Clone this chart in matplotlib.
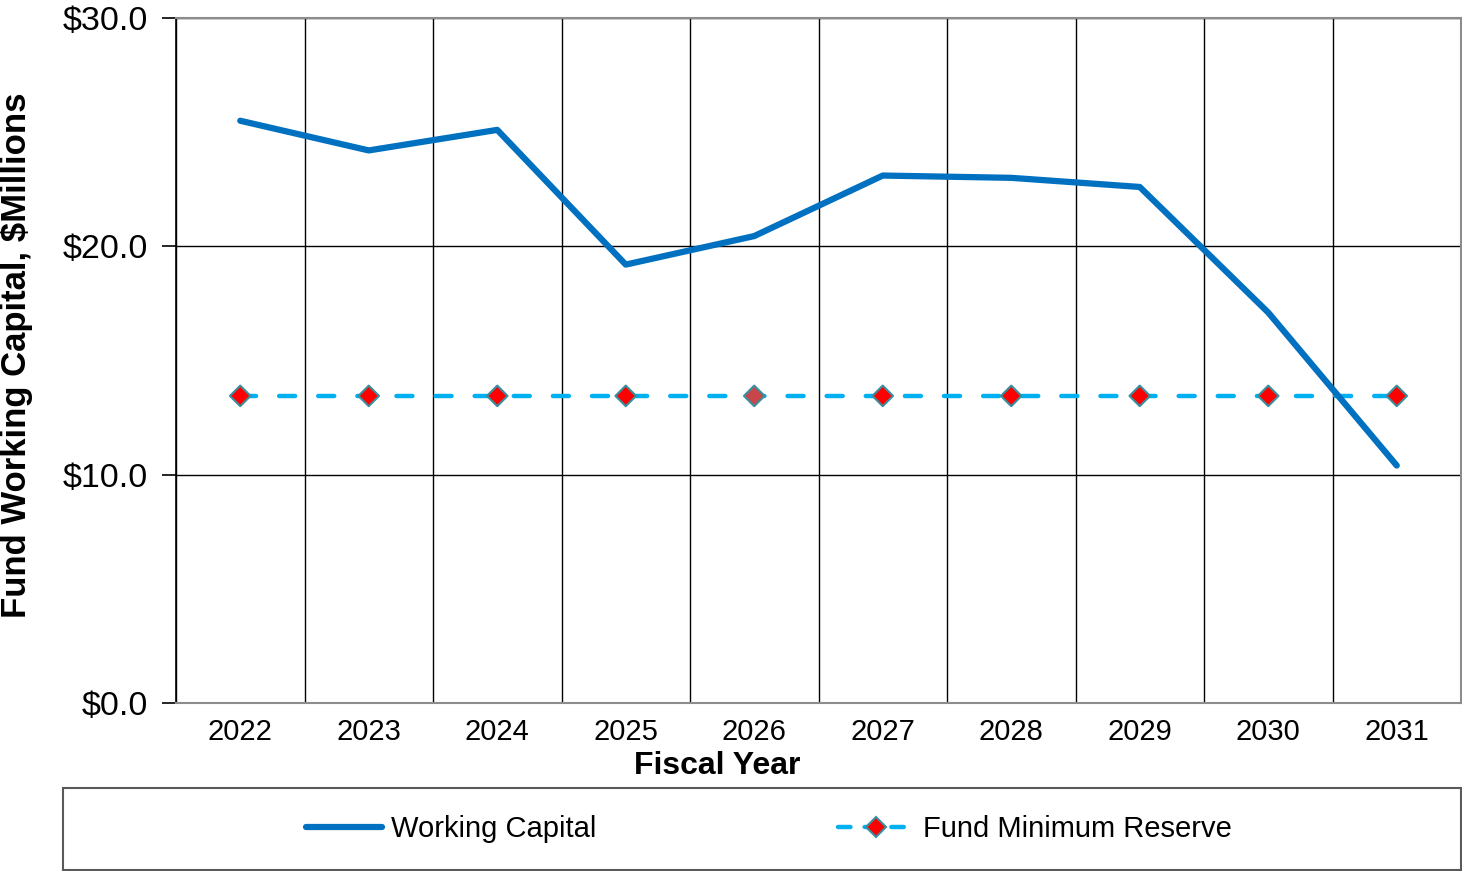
import numpy as np
import matplotlib.pyplot as plt
from matplotlib.lines import Line2D
from matplotlib.patches import Rectangle

plt.rcParams['font.family'] = ['Liberation Sans', 'DejaVu Sans']

years = ['2022', '2023', '2024', '2025', '2026', '2027', '2028', '2029', '2030', '2031']
working_capital = [25.5, 24.2, 25.1, 19.2, 20.45, 23.1, 23.0, 22.6, 17.1, 10.4]
min_reserve = [13.45] * 10
# the 2026 marker in the source is drawn a little duller than the others
marker_faces = ['#ff0000'] * 4 + ['#c8464a'] + ['#ff0000'] * 5

x = np.arange(len(years))

fig = plt.figure(figsize=(14.62, 8.71), dpi=100)
ax = fig.add_axes([176 / 1462, 1 - 703 / 871, (1461 - 176) / 1462, (703 - 18) / 871])

ax.plot(x, working_capital, color='#0070c0', lw=4.5, solid_capstyle='round', zorder=3)
ax.plot(x, min_reserve, color='#00b0f0', lw=3.2, dashes=(3.6, 5.2),
        dash_capstyle='round', zorder=2)
ax.scatter(x, min_reserve, marker='D', s=110, c=marker_faces,
           edgecolors='#3a8f9e', linewidths=1.5, zorder=4)

ax.set_xlim(-0.5, len(years) - 0.5)
ax.set_ylim(0, 30)
ax.set_yticks([0, 10, 20, 30])
ax.set_yticklabels(['$0.0', '$10.0', '$20.0', '$30.0'], fontsize=24.5)
ax.set_xticks(x)
ax.set_xticklabels(years, fontsize=21)
ax.set_xticks(np.arange(-0.5, len(years)), minor=True)

ax.tick_params(axis='x', which='both', length=0, pad=11)
ax.tick_params(axis='y', length=10, width=1.2, pad=10, color='black')
ax.grid(axis='y', color='black', lw=1)
ax.grid(axis='x', which='minor', color='black', lw=1)
ax.grid(axis='x', which='major', visible=False)
ax.set_axisbelow(True)

for side in ['top', 'right', 'bottom']:
    ax.spines[side].set_color('#8c8c8c')
    ax.spines[side].set_linewidth(1.5)
ax.spines['left'].set_color('black')
ax.spines['left'].set_linewidth(1.2)

ax.set_xlabel('Fiscal Year', fontsize=23, fontweight='bold')
ax.xaxis.set_label_coords((717 - 176) / 1285, (703 - 751) / 685)
ax.set_ylabel('Fund Working Capital, $Millions', fontsize=25, fontweight='bold')
ax.yaxis.set_label_coords((33 - 176) / 1285, (703 - 355) / 685)

# legend box below the plot
fig.patches.append(Rectangle((63 / 1462, 1 / 871), (1461 - 63) / 1462, (870 - 788) / 871,
                             transform=fig.transFigure, fill=False,
                             edgecolor='#595959', lw=1.5))
handles = [
    Line2D([], [], color='#0070c0', lw=4.5, solid_capstyle='round'),
    Line2D([], [], color='#00b0f0', lw=3.2, dashes=(2.8, 3.2), dash_capstyle='round',
           marker='D', markersize=10,
           markerfacecolor='#ff0000', markeredgecolor='#3a8f9e', markeredgewidth=1.5),
]
fig.legend(handles, ['Working Capital', 'Fund Minimum Reserve'], loc='center',
           bbox_to_anchor=(769 / 1462, 1 - 829 / 871), ncol=2, frameon=False,
           fontsize=21, handlelength=2.6, handletextpad=0.3, columnspacing=8.3)

fig.savefig('out.png', dpi=100)
